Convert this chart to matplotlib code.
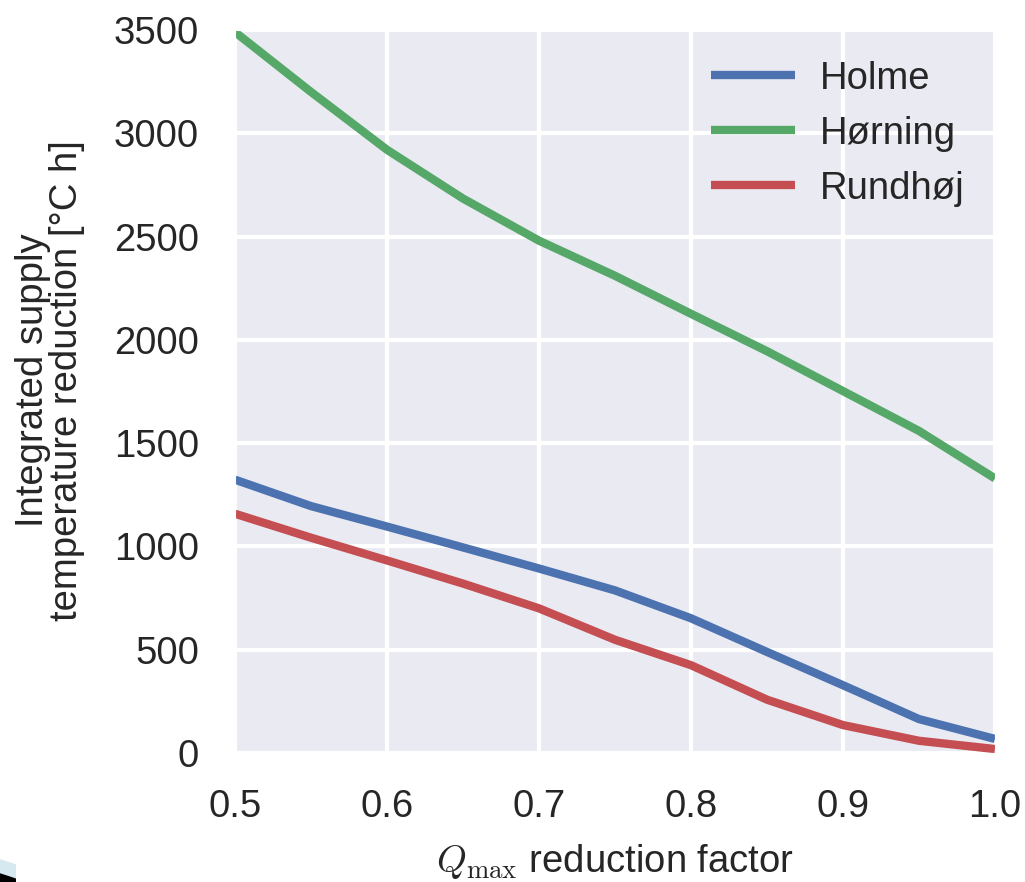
"""
Integrated supply temperature reduction vs Qmax reduction factor
"""

import numpy as np
import matplotlib
matplotlib.use("Agg")
import matplotlib.pyplot as plt
from matplotlib.patches import Polygon
import seaborn as sns

sns.set_style("darkgrid")
plt.rcParams['font.family'] = ['Liberation Sans', 'DejaVu Sans']
plt.rcParams['mathtext.fontset'] = 'cm'

qmax_factor = [0.50, 0.55, 0.60, 0.65, 0.70, 0.75, 0.80, 0.85, 0.90, 0.95, 1.00]
holme = [1323, 1195, 1096, 995, 893, 787, 652, 489, 328, 164, 68]
horning = [3490, 3200, 2920, 2684, 2480, 2310, 2126, 1945, 1752, 1559, 1329]
rundhoj = [1158, 1042, 932, 820, 700, 548, 425, 258, 135, 59, 19]

series_names = ["Holme", "Hørning", "Rundhøj"]
colors = ["#4C72B0", "#55A868", "#C44E52"]

fs = 27.5
txt = "#262626"

fig = plt.figure(figsize=(10.25, 8.82), dpi=100)
ax = fig.add_axes([0.2293, 0.1463, 0.7414, 0.8197])

for name, vals, c in zip(series_names, [holme, horning, rundhoj], colors):
    ax.plot(qmax_factor, vals, color=c, lw=6, label=name, solid_capstyle="butt")

ax.set_xlim(0.5, 1.0)
ax.set_ylim(0, 3500)
ax.set_xticks(np.arange(0.5, 1.01, 0.1))
ax.set_yticks(np.arange(0, 3501, 500))
ax.grid(True, color="white", lw=3)
ax.tick_params(axis="both", length=0, labelsize=fs, colors=txt, pad=26)

ax.set_xlabel(r"$Q_\mathrm{max}$ reduction factor", fontsize=fs, color=txt, labelpad=12)
ax.set_ylabel("Integrated supply\ntemperature reduction [°C h]", fontsize=fs,
              color=txt, labelpad=20, linespacing=0.95)
ax.yaxis.set_label_coords(-0.197, 0.515)

leg = ax.legend(loc="upper right", fontsize=fs, frameon=False, handlelength=2.2,
                handletextpad=0.65, labelspacing=0.5, borderaxespad=0.4)
for t in leg.get_texts():
    t.set_color(txt)

# leftover slide corner at the bottom left of the screenshot
fig.patches.append(Polygon([[0, 0.026], [0.0156, 0.020], [0.0156, 0.004], [0, 0.010]],
                           closed=True, transform=fig.transFigure, fc="#D6E9F0", ec="none"))
fig.patches.append(Polygon([[0, 0.010], [0.0156, 0.004], [0.0156, 0], [0, 0]],
                           closed=True, transform=fig.transFigure, fc="black", ec="none"))

fig.savefig("out.png", dpi=100)
